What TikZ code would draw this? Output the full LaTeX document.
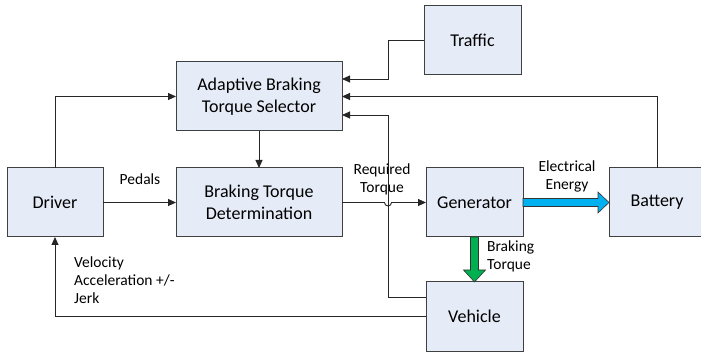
\documentclass[tikz,border=0pt]{standalone}
\usepackage{fontspec}
\setmainfont{Carlito}
\usetikzlibrary{arrows.meta,calc}
\definecolor{boxfill}{RGB}{230,236,247}
\definecolor{boxdraw}{RGB}{64,64,64}
\definecolor{elblue}{RGB}{0,176,240}
\definecolor{brgreen}{RGB}{0,176,80}
\tikzset{
  blk/.style={draw=boxdraw,fill=boxfill,line width=1pt,inner sep=0pt,outer sep=0pt,
    align=center,font=\fontsize{18}{22}\selectfont},
  conn/.style={draw=black!85,line width=0.9pt},
  arr/.style={conn,-{Triangle[length=8pt,width=7pt]}},
  lbl/.style={font=\fontsize{15.5}{18}\selectfont,inner sep=0pt},
  fat/.style={draw=black!80,line width=0.6pt}
}
\begin{document}
\begin{tikzpicture}[x=1pt,y=-1pt]
\useasboundingbox (0,0) rectangle (701,352);
\clip (0,0) rectangle (701,352);
\node[blk,minimum width=166pt,minimum height=69pt] (abts) at (259,96.5) {Adaptive Braking\\Torque Selector};
\node[blk,minimum width=97pt,minimum height=69pt] (traffic) at (472.5,40.5) {Traffic};
\node[blk,minimum width=96pt,minimum height=69pt] (driver) at (55,202.5) {Driver};
\node[blk,minimum width=166pt,minimum height=69pt] (btd) at (259,202.5) {Braking Torque\\Determination};
\node[blk,minimum width=97pt,minimum height=69pt] (gen) at (474.5,202.5) {Generator};
\node[blk,minimum width=96pt,minimum height=69pt] (bat) at (657,202.5) {Battery};
\node[blk,minimum width=97pt,minimum height=69pt] (veh) at (474.5,316.5) {Vehicle};

\coordinate (hop) at (388,202.5);

% driver -> ABTS
\draw[arr] (driver.north) |- (abts.west);
% traffic -> ABTS
\draw[arr] (traffic.west) -- (traffic.west -| hop) |- ([yshift=17.5pt]abts.east);
% battery -> ABTS
\draw[arr] (bat.north) |- (abts.east);
% vehicle -> ABTS
\draw[arr] ([yshift=19.5pt]veh.west) -- ([yshift=19.5pt]veh.west -| hop) |- ([yshift=-18.5pt]abts.east);
% ABTS -> BTD
\draw[arr] (abts.south) -- (btd.north);
% driver -> BTD
\draw[arr] (driver.east) -- (btd.west);
% BTD -> generator with hop
\draw[arr] (btd.east) -- ($(hop)+(-3.5,0)$) arc[start angle=180,end angle=0,radius=3.5] -- (gen.west);
% vehicle -> driver
\draw[arr] (veh.west) -| (driver.south);

% blue arrow generator -> battery
\filldraw[fat,fill=elblue] ($(gen.east)+(0,-4)$) -- ($(bat.west)+(-11,-4)$) -- ($(bat.west)+(-11,-10.5)$)
  -- (bat.west) -- ($(bat.west)+(-11,10.5)$) -- ($(bat.west)+(-11,4)$) -- ($(gen.east)+(0,4)$) -- cycle;
% green arrow generator -> vehicle
\filldraw[fat,fill=brgreen] ($(gen.south)+(-4,0)$) -- ($(veh.north)+(-4,-12)$) -- ($(veh.north)+(-11,-12)$)
  -- (veh.north) -- ($(veh.north)+(11,-12)$) -- ($(veh.north)+(4,-12)$) -- ($(gen.south)+(4,0)$) -- cycle;

% labels
\node[lbl] (lpedals) at (140,179) {Pedals};
\node[lbl,align=center] (lreq) at (382,179.5) {Required\\Torque};
\node[lbl,align=center] (lel) at (567,176) {Electrical\\Energy};
\node[lbl,align=left,anchor=west] (lbt) at (487,256.5) {Braking\\Torque};
\node[lbl,align=left,anchor=west] (lvel) at (74,280) {Velocity\\Acceleration +/-\\Jerk};
\end{tikzpicture}
\end{document}
